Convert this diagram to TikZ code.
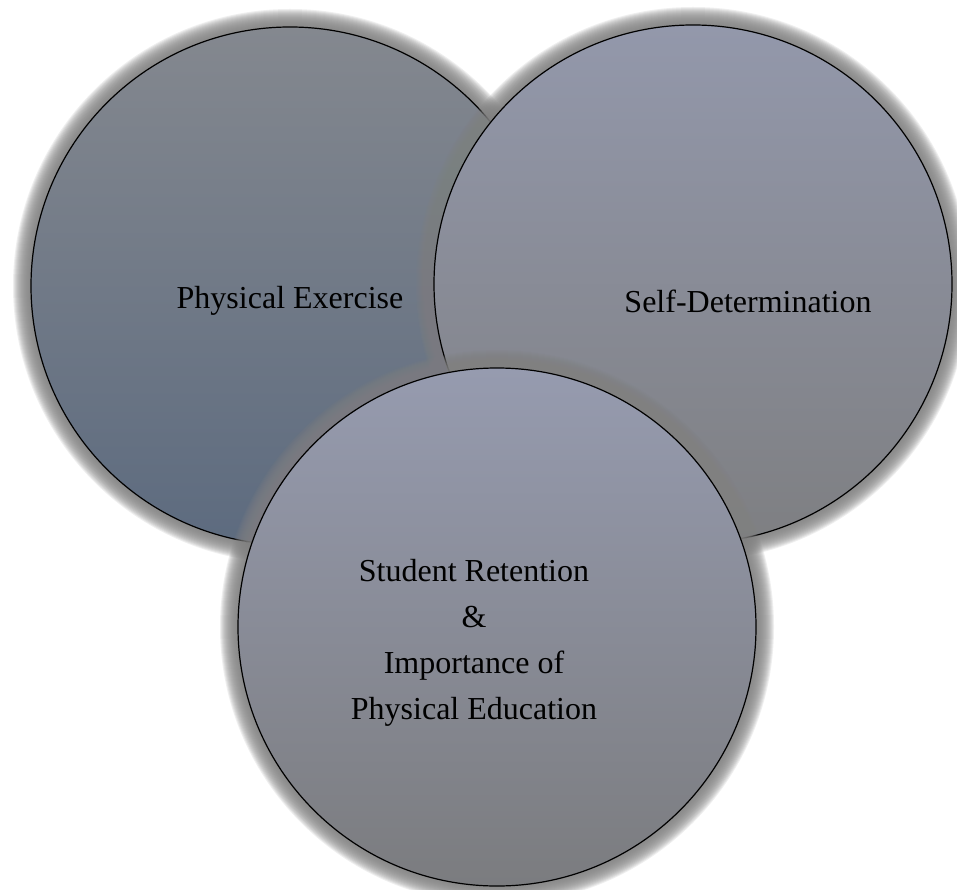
\documentclass[tikz,border=0pt]{standalone}
\usepackage{fontspec}
\setmainfont{Liberation Serif}
\definecolor{lefttop}{HTML}{84888F}
\definecolor{leftbot}{HTML}{5D6B7F}
\definecolor{righttop}{HTML}{9398AB}
\definecolor{rightbot}{HTML}{7E7F82}
\definecolor{bottop}{HTML}{969BAF}
\definecolor{botbot}{HTML}{7B7C7F}
\newcommand\glowat[1]{\foreach \k in {1,...,18}{\fill[glowring] (#1) circle[radius={(259+\k)*1pt}];}}
\begin{document}
\begin{tikzpicture}[x=1pt,y=-1pt,
  glowring/.style={fill=black!50, opacity=0.13},
  bubble/.style={circle, draw=black, line width=1.2pt, minimum size=518pt, inner sep=0pt},
  lbl/.style={font=\fontsize{32}{46}\selectfont, align=center, text=black}]
\useasboundingbox (0,0) rectangle (957,890);
% left circle
\glowat{290,286}
\node[bubble, top color=lefttop, bottom color=leftbot] (exercise) at (290,286) {};
\node[lbl] (exerciseText) at ([yshift=-15pt]exercise.center) {Physical Exercise};
% right circle
\glowat{693,284}
\node[bubble, top color=righttop, bottom color=rightbot] (selfdet) at (693,284) {};
\node[lbl] (selfdetText) at ([xshift=55pt,yshift=-17pt]selfdet.center) {Self-Determination};
% bottom circle
\glowat{497,627}
\node[bubble, top color=bottop, bottom color=botbot] (retention) at (497,627) {};
\node[lbl] (retentionText) at ([xshift=-23pt,yshift=-16pt]retention.center) {Student Retention\\\&\\Importance of\\Physical Education};
\end{tikzpicture}
\end{document}
